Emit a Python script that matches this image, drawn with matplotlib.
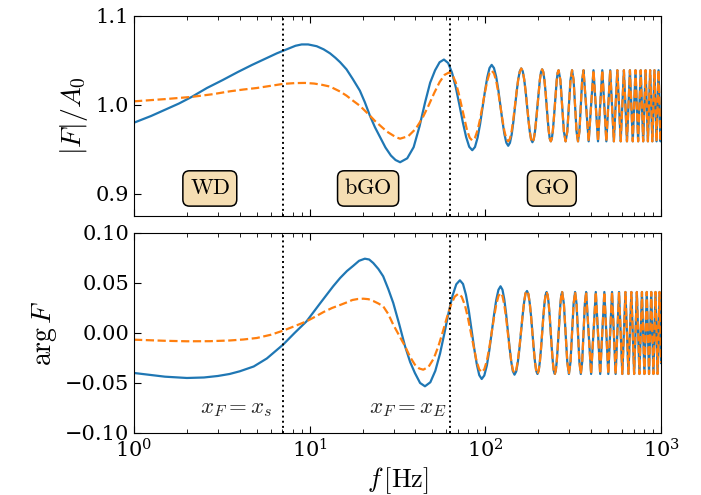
import matplotlib.pyplot as plt
from matplotlib.ticker import MultipleLocator

plt.rcParams['font.family'] = 'DejaVu Serif'
plt.rcParams['mathtext.fontset'] = 'cm'

# ---- |F|/A0, low / transition region ----
f_mag_blue = [1.0, 1.25, 1.5, 1.8, 2.13, 2.6, 3.2, 3.9,
              4.7, 5.6, 6.5, 7.5, 8.3, 9.0, 9.8, 10.96,
              12.0, 13.05, 14.0, 14.9, 16.2, 17.6, 19.3, 20.6,
              22.0, 23.5, 25.1, 27.0, 29.0, 30.8, 32.7, 35.9,
              39.05, 42.2, 45.4, 48.5, 51.75, 54.9, 58.1, 61.4,
              64.6, 67.9, 71.15, 74.4, 77.7, 80.9, 84.2, 87.25,
              90.3, 93.35, 96.4, 99.45, 102.5, 105.55, 108.6, 111.9,
              115.2, 118.5, 121.75, 125.0, 128.3, 131.6, 134.9, 138.0,
              141.2, 144.3, 147.45, 150.6, 153.7, 156.9]
mag_blue = [0.980, 0.9875, 0.9945, 1.0015, 1.009, 1.019, 1.028, 1.037,
            1.045, 1.052, 1.058, 1.063, 1.0665, 1.068, 1.068, 1.066,
            1.0625, 1.058, 1.053, 1.048, 1.040, 1.029, 1.016, 1.003,
            0.988, 0.975, 0.964, 0.952, 0.943, 0.938, 0.9355, 0.9399,
            0.9524, 0.976, 1.003, 1.025, 1.039, 1.048, 1.051, 1.0471,
            1.0361, 1.0195, 1.000, 0.9805, 0.9639, 0.9529, 0.949, 0.9526,
            0.9631, 0.9786, 0.997, 1.0154, 1.0309, 1.0414, 1.045, 1.0415,
            1.0317, 1.0169, 0.9995, 0.9821, 0.9673, 0.9575, 0.954, 0.9573,
            0.9667, 0.9808, 0.9975, 1.0142, 1.0283, 1.0377]

f_mag_orange = [1.0, 1.5, 2.13, 2.8, 3.52, 4.2, 5.0, 6.0,
                7.05, 8.2, 9.4, 10.6, 11.8, 13.05, 14.9, 16.2,
                17.7, 19.3, 20.6, 22.0, 23.5, 25.1, 27.5, 29.9,
                31.3, 32.7, 36.4, 40.1, 43.8, 47.5, 51.2, 54.9,
                58.6, 62.3, 65.0, 67.8, 70.5, 73.25, 76.0, 78.7,
                81.5, 84.2, 87.25, 90.3, 93.35, 96.4, 99.45, 102.5,
                105.55, 108.6, 111.9, 115.2, 118.5, 121.75, 125.0, 128.3,
                131.6, 134.9, 138.0, 141.2, 144.3, 147.45, 150.6, 153.7,
                156.9]
mag_orange = [1.004, 1.0065, 1.009, 1.012, 1.0153, 1.0173, 1.019, 1.0215,
              1.0236, 1.0245, 1.0247, 1.024, 1.0225, 1.0206, 1.015, 1.0104,
              1.0045, 0.999, 0.9935, 0.988, 0.982, 0.977, 0.970, 0.9655,
              0.9633, 0.962, 0.9648, 0.973, 0.985, 0.9993, 1.0136, 1.0257,
              1.0338, 1.0366, 1.0337, 1.0254, 1.013, 0.9983, 0.9836, 0.9712,
              0.9629, 0.960, 0.963, 0.9715, 0.9842, 0.9993, 1.0143, 1.027,
              1.0355, 1.0385, 1.0355, 1.027, 1.014, 0.9988, 0.9835, 0.9706,
              0.962, 0.959, 0.962, 0.9709, 0.984, 0.9995, 1.015, 1.0281,
              1.0369]

# ---- |F|/A0, geometric-optics tail (both curves coincide) ----
f_mag_tail = [160.0, 163.2, 166.3, 169.5, 172.6, 175.8, 178.9, 182.1,
              185.25, 188.4, 191.6, 194.7, 197.9, 201.05, 204.2, 207.3,
              210.5, 213.7, 216.8, 220.0, 223.1, 226.3, 229.4, 232.6,
              235.75, 238.9, 242.1, 245.2, 248.4, 251.5, 254.7, 257.8,
              261.0, 267.3, 273.6, 279.9, 286.25, 292.6, 298.9, 305.2,
              311.5, 317.8, 324.1, 330.4, 336.75, 343.0, 349.4, 355.7,
              362.0, 387.25, 412.5, 437.75, 463.0, 488.25, 513.5, 538.75,
              564.0, 589.25, 614.5, 639.75, 665.0, 690.25, 715.5, 740.75,
              766.0, 791.25, 816.5, 841.75, 867.0, 892.25, 917.5, 942.75,
              968.0, 993.25, 1000.0]
mag_tail = [1.041, 1.0378, 1.0288, 1.0154, 0.9995, 0.9836, 0.9702, 0.9612,
            0.958, 0.9611, 0.970, 0.9833, 0.999, 1.0147, 1.028, 1.0369,
            1.040, 1.0369, 1.0281, 1.015, 0.9995, 0.984, 0.9709, 0.962,
            0.959, 0.962, 0.9707, 0.9837, 0.999, 1.0143, 1.0273, 1.036,
            1.039, 1.028, 0.999, 0.970, 0.959, 0.970, 0.999, 1.028,
            1.039, 1.028, 0.999, 0.970, 0.959, 0.970, 0.999, 1.028,
            1.039, 0.959, 1.039, 0.959, 1.039, 0.959, 1.039, 0.959,
            1.039, 0.959, 1.039, 0.959, 1.039, 0.959, 1.039, 0.959,
            1.039, 0.959, 1.039, 0.959, 1.039, 0.959, 1.039, 0.959,
            1.039, 0.959, 0.973]

# ---- arg F, low / transition region ----
f_arg_blue = [1.0, 1.25, 1.5, 2.0, 2.5, 3.0, 3.5, 4.0,
              4.8, 5.7, 6.3, 7.05, 8.2, 9.6, 11.5, 13.6,
              14.9, 16.3, 17.7, 19.1, 20.6, 21.8, 23.0, 24.6,
              26.2, 28.0, 29.9, 32.3, 34.9, 37.3, 39.7, 42.5,
              45.3, 48.6, 51.9, 55.2, 58.45, 61.7, 65.0, 68.3,
              71.6, 74.6, 77.5, 80.5, 83.45, 86.4, 89.4, 92.3,
              95.3, 98.6, 102.0, 105.3, 108.65, 112.0, 115.3, 118.7,
              122.0, 125.1, 128.1, 131.2, 134.25, 137.3, 140.4, 143.4,
              146.5, 149.8, 153.0, 156.3, 159.55, 162.8, 166.1, 169.3]
arg_blue = [-0.040, -0.042, -0.0437, -0.045, -0.0445, -0.043, -0.041, -0.0383,
            -0.0335, -0.0255, -0.019, -0.0117, 0.0, 0.0117, 0.030, 0.0467,
            0.055, 0.062, 0.0672, 0.0722, 0.0743, 0.0735, 0.070, 0.064,
            0.0567, 0.044, 0.030, 0.009, -0.0133, -0.029, -0.040, -0.050,
            -0.0533, -0.0493, -0.0378, -0.0206, -0.0003, 0.020, 0.0372, 0.0487,
            0.0527, 0.049, 0.0383, 0.0222, 0.0034, -0.0155, -0.0315, -0.0422,
            -0.046, -0.0425, -0.0324, -0.0174, 0.0004, 0.0181, 0.0331, 0.0432,
            0.0467, 0.0433, 0.0338, 0.0194, 0.0025, -0.0144, -0.0288, -0.0383,
            -0.0417, -0.0385, -0.0293, -0.0156, 0.0007, 0.0169, 0.0306, 0.0398]

f_arg_orange = [1.0, 1.5, 2.0, 2.7, 3.5, 4.2, 5.0, 6.0,
                7.05, 8.2, 9.6, 10.8, 12.0, 13.4, 14.9, 16.2,
                17.5, 18.8, 20.2, 21.6, 23.0, 24.6, 26.2, 28.0,
                29.9, 32.3, 34.9, 37.3, 39.7, 42.0, 44.3, 47.5,
                50.8, 54.0, 57.25, 60.5, 63.7, 66.95, 70.2, 73.3,
                76.5, 79.6, 82.75, 85.9, 89.0, 92.2, 95.3, 98.6,
                102.0, 105.3, 108.65, 112.0, 115.3, 118.7, 122.0, 125.1,
                128.1, 131.2, 134.25, 137.3, 140.4, 143.4, 146.5, 149.8,
                153.0, 156.3, 159.55, 162.8, 166.1, 169.3]
arg_orange = [-0.0067, -0.0078, -0.0083, -0.0082, -0.0075, -0.0065, -0.005, -0.0018,
              0.0023, 0.0068, 0.0117, 0.0165, 0.021, 0.025, 0.028, 0.0305,
              0.033, 0.034, 0.0343, 0.0338, 0.032, 0.0295, 0.0267, 0.019,
              0.0083, -0.0025, -0.0133, -0.024, -0.0317, -0.0355, -0.0367, -0.0338,
              -0.0256, -0.0133, 0.0013, 0.0159, 0.0282, 0.0364, 0.0393, 0.0363,
              0.0278, 0.015, 0.0, -0.015, -0.0278, -0.0363, -0.0393, -0.0363,
              -0.0277, -0.0148, 0.0004, 0.0155, 0.0284, 0.037, 0.040, 0.037,
              0.0283, 0.0153, 0.0, -0.0153, -0.0283, -0.037, -0.040, -0.0368,
              -0.0278, -0.0144, 0.0015, 0.0174, 0.0308, 0.0398]

# ---- arg F, geometric-optics tail ----
f_arg_tail = [172.6, 175.8, 178.9, 182.1, 185.25, 188.4, 191.6, 194.7,
              197.9, 201.05, 204.2, 207.35, 210.5, 213.65, 216.8, 219.95,
              223.1, 226.25, 229.4, 232.6, 235.75, 238.9, 242.1, 245.2,
              248.4, 251.55, 254.7, 257.85, 261.0, 264.15, 267.3, 270.45,
              273.6, 279.9, 286.25, 292.6, 298.9, 305.2, 311.5, 317.8,
              324.1, 330.4, 336.75, 343.0, 349.4, 355.7, 362.0, 368.3,
              374.6, 399.9, 425.1, 450.4, 475.6, 500.9, 526.1, 551.4,
              576.6, 601.9, 627.1, 652.4, 677.6, 702.9, 728.1, 753.4,
              778.6, 803.9, 829.1, 854.4, 879.6, 904.9, 930.1, 955.4,
              980.6, 1000.0]
arg_tail = [0.042, 0.0388, 0.0298, 0.0164, 0.0005, -0.0154, -0.0288, -0.0378,
            -0.041, -0.0379, -0.029, -0.0157, 0.0, 0.0157, 0.029, 0.0379,
            0.041, 0.0379, 0.029, 0.0157, 0.0, -0.0157, -0.029, -0.0379,
            -0.041, -0.0379, -0.029, -0.0157, 0.0, 0.0157, 0.029, 0.0379,
            0.041, 0.029, 0.0, -0.029, -0.041, -0.029, 0.0, 0.029,
            0.041, 0.029, 0.0, -0.029, -0.041, -0.029, 0.0, 0.029,
            0.041, -0.041, 0.041, -0.041, 0.041, -0.041, 0.041, -0.041,
            0.041, -0.041, 0.041, -0.041, 0.041, -0.041, 0.041, -0.041,
            0.041, -0.041, 0.041, -0.041, 0.041, -0.041, 0.041, -0.041,
            0.041, -0.030]

# regime boundaries and labels
f_xs = 7.05
f_xE = 63.2
regimes = ['WD', 'bGO', 'GO']
regime_f = [2.7, 21.5, 239]

blue = '#1f77b4'
orange = '#ff7f0e'

fig = plt.figure(figsize=(7.01, 4.95), dpi=100)
ax1 = fig.add_axes([0.1912, 0.5636, 0.7518, 0.4041])
ax2 = fig.add_axes([0.1912, 0.1253, 0.7518, 0.4040], sharex=ax1)

ax1.plot(f_mag_blue + f_mag_tail, mag_blue + mag_tail, color=blue, lw=1.6)
ax1.plot(f_mag_orange + f_mag_tail, mag_orange + mag_tail, color=orange, lw=1.6, ls='--')
ax2.plot(f_arg_blue + f_arg_tail, arg_blue + arg_tail, color=blue, lw=1.6)
ax2.plot(f_arg_orange + f_arg_tail, arg_orange + arg_tail, color=orange, lw=1.6, ls='--')

for ax in (ax1, ax2):
    ax.axvline(f_xs, color='k', ls=':', lw=1.4)
    ax.axvline(f_xE, color='k', ls=':', lw=1.4)
    ax.set_xscale('log')
    ax.set_xlim(1, 1000)
    ax.tick_params(which='both', direction='in', top=True, labelsize=15)
    ax.tick_params(which='major', length=5)
    ax.tick_params(which='minor', length=3)

ax1.set_ylim(0.875, 1.1)
ax1.yaxis.set_major_locator(MultipleLocator(0.1))
ax1.tick_params(labelbottom=False)
ax1.set_ylabel(r'$|F|/A_0$', fontsize=20)

ax2.set_ylim(-0.1, 0.1)
ax2.yaxis.set_major_locator(MultipleLocator(0.05))
ax2.set_ylabel(r'$\arg F$', fontsize=20)
ax2.set_xlabel(r'$f\,[\mathrm{Hz}]$', fontsize=19, labelpad=3)

for name, fx in zip(regimes, regime_f):
    ax1.text(fx, 0.906, r'$\mathrm{%s}$' % name, ha='center', va='center', fontsize=16,
             bbox=dict(boxstyle='round,pad=0.3', fc='wheat', ec='black', lw=1.1))

ax2.text(6.18, -0.075, r'$x_F = x_s$', ha='right', va='center', fontsize=16.5, color='0.15')
ax2.text(60.2, -0.075, r'$x_F = x_E$', ha='right', va='center', fontsize=16.5, color='0.15')

fig.savefig('out.png', dpi=100)
